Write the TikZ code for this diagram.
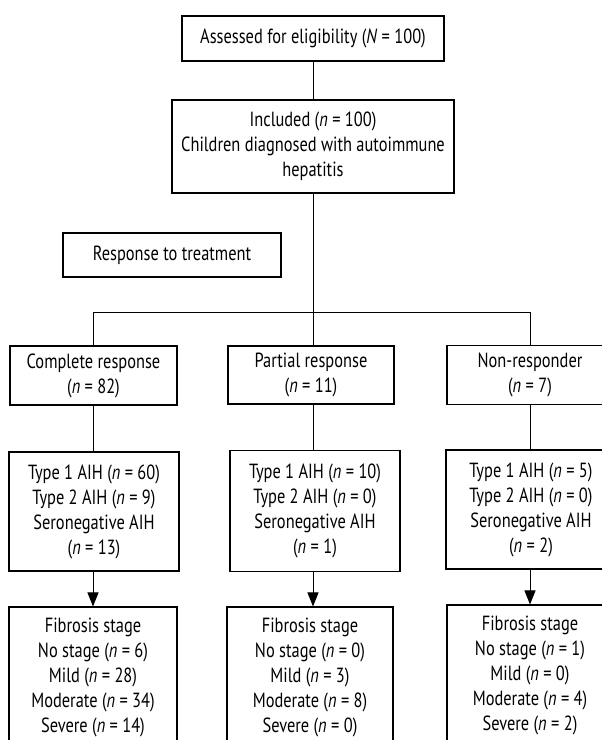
\documentclass[tikz,border=0pt]{standalone}
\usepackage{fontspec}
\setmainfont{PT Sans}[FakeStretch=0.80]
\usetikzlibrary{arrows.meta}
\begin{document}
\begin{tikzpicture}[x=1pt,y=-1pt,
  box/.style={draw, line width=1.1pt, align=center, inner sep=0pt, font=\fontsize{20.5}{25}\selectfont},
  conn/.style={line width=1pt},
  arr/.style={line width=1pt, -{Triangle[width=11pt,length=14pt]}}]
\useasboundingbox (0,0) rectangle (602,740);
\fill[white] (0,0) rectangle (602,740);
\clip (0,0) rectangle (602,740);
% top
\node[box, minimum width=262pt, minimum height=45pt] (top) at (313,38.5) {Assessed for eligibility (\textit{N} = 100)};
\node[box, minimum width=282pt, minimum height=93pt] (incl) at (313,146.5) {Included (\textit{n} = 100)\\Children diagnosed with autoimmune\\hepatitis};
\node[box, minimum width=218pt, minimum height=44pt] (resp) at (172,255) {Response to treatment};
% response row
\node[box, minimum width=167pt, minimum height=59pt] (comp) at (93.5,375.5) {Complete response\\(\textit{n} = 82)};
\node[box, minimum width=166pt, minimum height=58pt] (part) at (311,375) {Partial response\\(\textit{n} = 11)};
\node[box, minimum width=166pt, minimum height=59pt] (non) at (530,375) {Non-responder\\(\textit{n} = 7)};
% type row
\node[box, minimum width=170pt, minimum height=119pt] (compT) at (94,511.5) {Type 1 AIH (\textit{n} = 60)\\Type 2 AIH (\textit{n} = 9)\\Seronegative AIH\\(\textit{n} = 13)};
\node[box, minimum width=170pt, minimum height=121pt] (partT) at (315,511) {Type 1 AIH (\textit{n} = 10)\\Type 2 AIH (\textit{n} = 0)\\Seronegative AIH\\(\textit{n} = 1)};
\node[box, minimum width=170pt, minimum height=119pt] (nonT) at (531,509.5) {Type 1 AIH (\textit{n} = 5)\\Type 2 AIH (\textit{n} = 0)\\Seronegative AIH\\(\textit{n} = 2)};
% fibrosis row
\node[box, minimum width=168pt, minimum height=140pt] (compF) at (93,677) {Fibrosis stage\\No stage (\textit{n} = 6)\\Mild (\textit{n} = 28)\\Moderate (\textit{n} = 34)\\Severe (\textit{n} = 14)};
\node[box, minimum width=166pt, minimum height=140pt] (partF) at (310,677) {Fibrosis stage\\No stage (\textit{n} = 0)\\Mild (\textit{n} = 3)\\Moderate (\textit{n} = 8)\\Severe (\textit{n} = 0)};
\node[box, minimum width=166pt, minimum height=140pt] (nonF) at (530,675) {Fibrosis stage\\No stage (\textit{n} = 1)\\Mild (\textit{n} = 0)\\Moderate (\textit{n} = 4)\\Severe (\textit{n} = 2)};
% connectors
\coordinate (split) at (313,312);
\coordinate (sl) at (93,312);
\coordinate (sr) at (530,312);
\draw[conn] (top) -- (incl);
\draw[conn] (incl.south) -- (split);
\draw[conn] (sl) -- (sr);
\draw[conn] (sl) -- (sl |- comp.north);
\draw[conn] (split) -- (split |- part.north);
\draw[conn] (sr) -- (sr |- non.north);
\draw[conn] (sl |- comp.south) -- (sl |- compT.north);
\draw[conn] (split |- part.south) -- (split |- partT.north);
\draw[conn] (sr |- non.south) -- (sr |- nonT.north);
\draw[arr] (sl |- compT.south) -- (sl |- compF.north);
\draw[arr] (split |- partT.south) -- (split |- partF.north);
\draw[arr] (sr |- nonT.south) -- (sr |- nonF.north);
\end{tikzpicture}
\end{document}
